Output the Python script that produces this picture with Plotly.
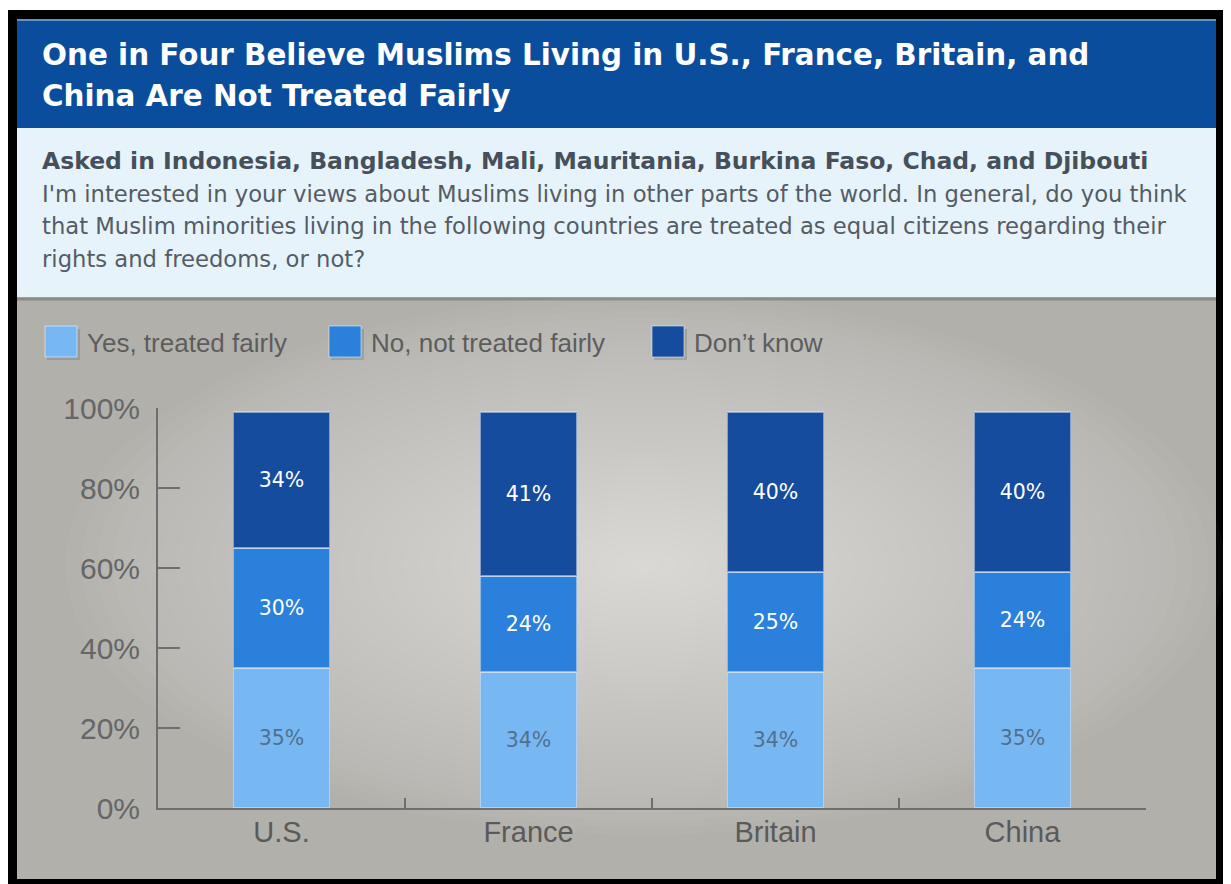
import plotly.graph_objects as go

# ---- data ----
countries = ["U.S.", "France", "Britain", "China"]
series_names = ["Yes, treated fairly", "No, not treated fairly", "Don\u2019t know"]
yes_vals = [35, 34, 34, 35]
no_vals = [30, 24, 25, 24]
dk_vals = [34, 41, 40, 40]
y_ticks = [0, 20, 40, 60, 80, 100]

title_lines = ["One in Four Believe Muslims Living in U.S., France, Britain, and",
               "China Are Not Treated Fairly"]
sub_bold = "Asked in Indonesia, Bangladesh, Mali, Mauritania, Burkina Faso, Chad, and Djibouti"
sub_lines = ["I'm interested in your views about Muslims living in other parts of the world. In general, do you think",
             "that Muslim minorities living in the following countries are treated as equal citizens regarding their",
             "rights and freedoms, or not?"]

# ---- styling ----
OFF = 8                     # page body margin
W, H = 1231 - OFF, 884 - OFF
L, R, T, B = 158, 1146, 408, 808   # plot area in screen pixels
FONT = "Liberation Sans, Arial, sans-serif"
WIDE = "DejaVu Sans, Liberation Sans, sans-serif"
colors = ["#78b8f2", "#2a80da", "#164c9e"]
label_colors = ["#51708f", "#ffffff", "#ffffff"]


def px(x):
    return (x - L) / (R - L)


def py(y):
    return (B - y) / (B - T)


fig = go.Figure()
for name, vals, col, lc in zip(series_names, [yes_vals, no_vals, dk_vals], colors, label_colors):
    fig.add_trace(go.Bar(
        x=countries, y=vals, name=name,
        marker=dict(color=col, line=dict(color="rgba(225,230,238,0.55)", width=1.5)),
        text=[f"{v}%" for v in vals], textposition="inside", insidetextanchor="middle",
        textfont=dict(family=WIDE, size=20.5, color=lc),
        width=0.39, showlegend=False, hoverinfo="skip",
    ))

shapes = []
# black frame
shapes.append(dict(type="rect", xref="paper", yref="paper", x0=px(8), x1=px(1225), y0=py(10), y1=py(890),
                   fillcolor="#000000", line=dict(width=0), layer="below"))
# title bar
shapes.append(dict(type="rect", xref="paper", yref="paper", x0=px(17), x1=px(1216), y0=py(19), y1=py(128),
                   fillcolor="#0b4d9d", line=dict(width=0), layer="below"))
shapes.append(dict(type="line", xref="paper", yref="paper", x0=px(17), x1=px(1216), y0=py(20), y1=py(20),
                   line=dict(color="#5f92c8", width=2), layer="below"))
# subtitle band
shapes.append(dict(type="rect", xref="paper", yref="paper", x0=px(17), x1=px(1216), y0=py(128), y1=py(297),
                   fillcolor="#e6f3fb", line=dict(width=0), layer="below"))
# gray chart area
shapes.append(dict(type="rect", xref="paper", yref="paper", x0=px(17), x1=px(1216), y0=py(297), y1=py(879),
                   fillcolor="#b2b0ab", line=dict(width=0), layer="below"))
shapes.append(dict(type="line", xref="paper", yref="paper", x0=px(17), x1=px(1216), y0=py(299), y1=py(299),
                   line=dict(color="#8d8b87", width=3), layer="below"))
# radial light glow (concentric ellipses)
cx, cy = 645, 565
n = 36
for i in range(n):
    f = 1 - i / n
    rx, ry = 580 * f, 270 * f
    shapes.append(dict(type="circle", xref="paper", yref="paper",
                       x0=px(cx - rx), x1=px(cx + rx), y0=py(cy - ry), y1=py(cy + ry),
                       fillcolor="rgba(255,255,255,0.026)", line=dict(width=0), layer="below"))

annotations = []
# title
for i, t in enumerate(title_lines):
    annotations.append(dict(xref="paper", yref="paper", x=px(40), y=py(55 + 41 * i), xanchor="left",
                            yanchor="middle", text=f"<b>{t}</b>", showarrow=False,
                            font=dict(family=WIDE, size=29.4, color="#ffffff")))
annotations.append(dict(xref="paper", yref="paper", x=px(40), y=py(161), xanchor="left", yanchor="middle",
                        text=f"<b>{sub_bold}</b>", showarrow=False,
                        font=dict(family=WIDE, size=23.5, color="#46505b")))
for i, t in enumerate(sub_lines):
    annotations.append(dict(xref="paper", yref="paper", x=px(40), y=py(194 + 32.5 * i), xanchor="left",
                            yanchor="middle", text=t, showarrow=False,
                            font=dict(family=WIDE, size=22.7, color="#555c64")))

# manual legend
legend_x = [45, 329, 652]
for name, col, lx in zip(series_names, colors, legend_x):
    shapes.append(dict(type="rect", xref="paper", yref="paper", x0=px(lx + 2), x1=px(lx + 35), y0=py(329),
                       y1=py(360), fillcolor="rgba(90,90,90,0.25)", line=dict(width=0)))
    shapes.append(dict(type="rect", xref="paper", yref="paper", x0=px(lx), x1=px(lx + 32), y0=py(326),
                       y1=py(357), fillcolor=col, line=dict(color="rgba(255,255,255,0.5)", width=1)))
    annotations.append(dict(xref="paper", yref="paper", x=px(lx + 40), y=py(343), xanchor="left",
                            yanchor="middle", text=name, showarrow=False,
                            font=dict(family=FONT, size=26, color="#5d5d5d")))

fig.update_layout(
    width=W, height=H, autosize=False,
    margin=dict(l=L - OFF, r=W - (R - OFF), t=T - OFF, b=H - (B - OFF), pad=0),
    paper_bgcolor="#ffffff", plot_bgcolor="rgba(0,0,0,0)",
    barmode="stack", showlegend=False,
    shapes=shapes, annotations=annotations,
    font=dict(family=FONT),
)
fig.update_xaxes(range=[-0.5, 3.5], showline=True, linecolor="#6e6e6e", linewidth=2,
                 ticks="inside", tickson="boundaries", ticklen=10, tickcolor="#6e6e6e", tickwidth=1.5,
                 showgrid=False, zeroline=False,
                 tickfont=dict(family=FONT, size=29, color="#5a5a5a"), ticklabelstandoff=-3)
fig.update_yaxes(range=[0, 100], tickvals=y_ticks, ticktext=[f"{v}%" for v in y_ticks],
                 showline=True, linecolor="#6e6e6e", linewidth=2,
                 ticks="inside", ticklen=22, tickcolor="#6e6e6e", tickwidth=1.5,
                 showgrid=False, zeroline=False,
                 tickfont=dict(family=FONT, size=30, color="#666666"), ticklabelstandoff=10)

fig.write_html("out.html")
